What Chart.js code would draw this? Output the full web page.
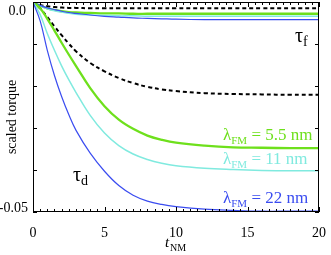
<!DOCTYPE html>
<html>
<head>
<meta charset="utf-8">
<script src="https://cdn.jsdelivr.net/npm/chart.js@4.4.1/dist/chart.umd.min.js"></script>
<style>
  html, body { margin: 0; padding: 0; background: #fff; }
  #wrap { width: 331px; height: 255px; }
</style>
</head>
<body>
<div id="wrap"><canvas id="c" width="331" height="255"></canvas></div>
<script>
// t_NM sample points shared by every curve
const tNM = [0, 0.5, 1, 1.5, 2, 2.5, 3, 4, 5, 6, 7, 8, 9, 10, 12, 14, 16, 18, 20];

// tau_d curves (scaled torque)
const tdBlack = [0, -0.0015, -0.0036, -0.0058, -0.0079, -0.0099, -0.0117, -0.0145, -0.0165, -0.0181, -0.0193, -0.0202, -0.0208, -0.0212, -0.0217, -0.0219, -0.0220, -0.0221, -0.0221];
const tdGreen = [0, -0.0015, -0.0040, -0.0068, -0.0097, -0.0125, -0.0152, -0.0205, -0.0248, -0.0280, -0.0302, -0.0318, -0.0328, -0.0335, -0.0342, -0.0346, -0.0347, -0.0348, -0.0348];
const tdCyan  = [0, -0.0030, -0.0075, -0.0115, -0.0152, -0.0185, -0.0215, -0.0270, -0.0312, -0.0342, -0.0362, -0.0375, -0.0384, -0.0390, -0.0396, -0.0399, -0.0401, -0.0402, -0.0402];
const tdBlue  = [0, -0.0045, -0.0115, -0.0175, -0.0225, -0.0268, -0.0305, -0.0360, -0.0403, -0.0437, -0.0460, -0.0474, -0.0482, -0.0487, -0.0493, -0.0496, -0.0498, -0.0498, -0.0498];

// tau_f curves
const tfBlack = [0, -0.0007, -0.0010, -0.0012, -0.0013, -0.0014, -0.0014, -0.0015, -0.0015, -0.0015, -0.0015, -0.0015, -0.0015, -0.0015, -0.0015, -0.0015, -0.0015, -0.0015, -0.0015];
const tfGreen = [0, -0.0009, -0.0015, -0.0019, -0.0022, -0.0024, -0.0025, -0.0026, -0.0027, -0.0027, -0.0028, -0.0028, -0.0028, -0.0028, -0.0028, -0.0028, -0.0028, -0.0028, -0.0028];
const tfCyan  = [0, -0.0009, -0.0016, -0.0021, -0.0024, -0.0027, -0.0029, -0.0031, -0.0032, -0.0033, -0.0033, -0.0034, -0.0034, -0.0034, -0.0034, -0.0034, -0.0034, -0.0034, -0.0034];
const tfBlue  = [0, -0.0008, -0.0014, -0.0018, -0.0022, -0.0025, -0.0027, -0.0031, -0.0034, -0.0036, -0.0038, -0.0039, -0.0040, -0.0041, -0.0042, -0.0042, -0.0042, -0.0042, -0.0042];

// axis ticks
const xMajor = [0, 5, 10, 15, 20];
const yMajor = [0, -0.01, -0.02, -0.03, -0.04, -0.05];
const yLabels = [[0, '0.0'], [-0.05, '-0.05']];

const GREEN = '#6ee01c', CYAN = '#80eadf', BLUE = '#3a4cf0', BLACK = '#000';
const SERIF = '"Liberation Serif", "DejaVu Serif", serif';

const pts = ys => tNM.map((t, i) => ({ x: t, y: ys[i] }));
const line = (ys, color, width, dash) => ({
    data: pts(ys), borderColor: color, borderWidth: width, borderDash: dash || [],
    pointRadius: 0, fill: false, tension: 0.4
});

// frame, inward ticks, y labels, titles and annotations
const decor = {
    id: 'decor',
    afterDraw(chart) {
        const { ctx, chartArea: a, scales: { x, y } } = chart;
        ctx.save();
        ctx.strokeStyle = '#000';
        ctx.lineWidth = 1;
        ctx.strokeRect(a.left + 0.5, a.top + 0.5, a.right - a.left - 1, a.bottom - a.top - 1);
        ctx.beginPath();
        for (let v = 0; v <= 20.001; v += 0.5) {
            const px = Math.round(x.getPixelForValue(v)) + 0.5;
            const len = xMajor.includes(Math.round(v * 10) / 10) ? 5 : 3;
            ctx.moveTo(px, a.bottom); ctx.lineTo(px, a.bottom - len);
            ctx.moveTo(px, a.top); ctx.lineTo(px, a.top + len);
        }
        yMajor.forEach(v => {
            const py = Math.round(y.getPixelForValue(v)) + 0.5;
            ctx.moveTo(a.left, py); ctx.lineTo(a.left + 4, py);
            ctx.moveTo(a.right, py); ctx.lineTo(a.right - 4, py);
        });
        ctx.stroke();

        ctx.fillStyle = '#000';
        ctx.font = '14px ' + SERIF;
        ctx.textAlign = 'right';
        ctx.textBaseline = 'middle';
        ctx.fillText(yLabels[0][1], a.left - 7, y.getPixelForValue(yLabels[0][0]) + 9);
        ctx.fillText(yLabels[1][1], a.left - 5, y.getPixelForValue(yLabels[1][0]) - 4);

        // y title
        ctx.save();
        ctx.translate(12, 117);
        ctx.rotate(-Math.PI / 2);
        ctx.textAlign = 'center';
        ctx.font = '14px ' + SERIF;
        ctx.fillText('scaled torque', 0, 0);
        ctx.restore();

        // x title t_NM
        ctx.textAlign = 'left';
        ctx.textBaseline = 'alphabetic';
        ctx.font = 'italic 15px ' + SERIF;
        ctx.fillText('t', 165, 247);
        ctx.font = '10px ' + SERIF;
        ctx.fillText('NM', 170, 251);

        // tau labels
        const tau = (sub, px, py) => {
            ctx.fillStyle = '#000';
            ctx.font = '20px ' + SERIF;
            ctx.fillText('τ', px, py);
            const w = ctx.measureText('τ').width;
            ctx.font = '14px ' + SERIF;
            ctx.fillText(sub, px + w, py + 4);
        };
        tau('f', 295, 42);
        tau('d', 73, 181);

        // lambda labels
        const lam = (val, color, py) => {
            let px = 223;
            ctx.fillStyle = color;
            ctx.font = '17px ' + SERIF;
            ctx.fillText('λ', px, py);
            px += ctx.measureText('λ').width;
            ctx.font = '11px ' + SERIF;
            ctx.fillText('FM', px, py + 4);
            px += ctx.measureText('FM').width;
            ctx.font = '17px ' + SERIF;
            ctx.fillText(' = ' + val + ' nm', px, py);
        };
        lam('5.5', GREEN, 140);
        lam('11', CYAN, 164);
        lam('22', BLUE, 203);
        ctx.restore();
    }
};

new Chart(document.getElementById('c'), {
    type: 'line',
    data: {
        datasets: [
            line(tdBlue, BLUE, 1.2),
            line(tdCyan, CYAN, 1.5),
            line(tdGreen, GREEN, 2.3),
            line(tdBlack, BLACK, 2, [4, 3]),
            line(tfBlue, BLUE, 1.2),
            line(tfCyan, CYAN, 1.5),
            line(tfGreen, GREEN, 2.3),
            line(tfBlack, BLACK, 2, [4, 3])
        ]
    },
    options: {
        responsive: false,
        animation: false,
        layout: { padding: { top: 2, right: 7, left: 0, bottom: 0 } },
        plugins: { legend: { display: false }, tooltip: { enabled: false } },
        scales: {
            x: {
                type: 'linear', min: 0, max: 20,
                afterFit: s => { s.height = 43; },
                grid: { display: false },
                border: { display: false },
                ticks: {
                    stepSize: 5, padding: 5, color: '#000', maxRotation: 0,
                    font: { family: SERIF, size: 14 }
                }
            },
            y: {
                type: 'linear', min: -0.05, max: 0,
                afterFit: s => { s.width = 33; },
                grid: { display: false },
                border: { display: false },
                ticks: { display: false }
            }
        }
    },
    plugins: [decor]
});
</script>
</body>
</html>
